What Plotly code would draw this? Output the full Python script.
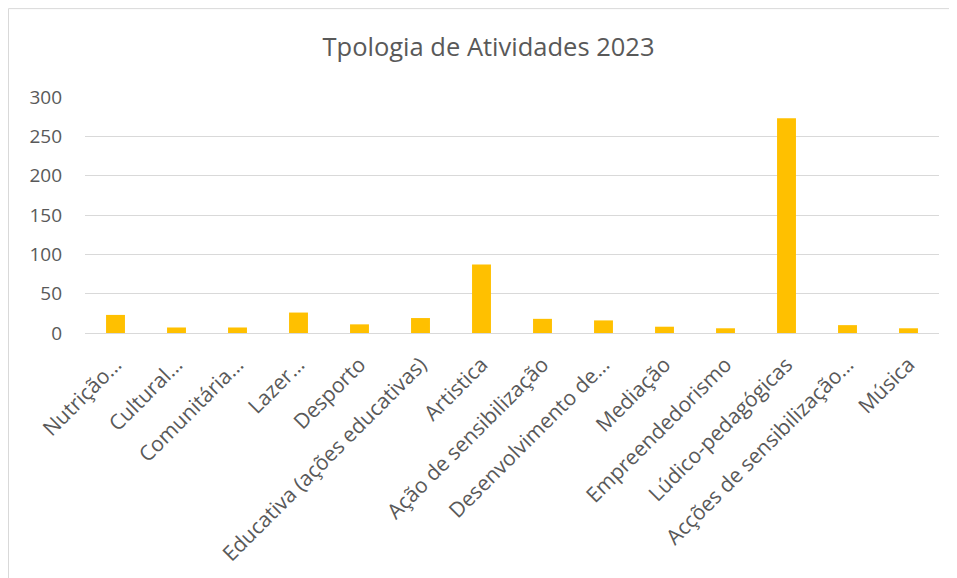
import plotly.graph_objects as go

categories = [
    "Nutrição…", "Cultural…", "Comunitária…", "Lazer…", "Desporto",
    "Educativa (ações educativas)", "Artistica", "Ação de sensibilização",
    "Desenvolvimento de…", "Mediação", "Empreendedorismo",
    "Lúdico-pedagógicas", "Acções de sensibilização…", "Música",
]
values = [23, 7, 7, 26, 11, 19, 87, 18, 16, 8, 6, 273, 10, 6]
y_ticks = [0, 50, 100, 150, 200, 250, 300]
title_text = "Tpologia de Atividades 2023"

FONT = "Open Sans"
GREY = "#595959"

# page is offset by 8px body margin
W, H = 949, 570

fig = go.Figure(
    go.Bar(
        x=categories,
        y=values,
        marker=dict(color="#FFC000", line=dict(width=0)),
    )
)

fig.update_layout(
    width=W,
    height=H,
    margin=dict(l=77, r=18, t=89, b=245),
    paper_bgcolor="white",
    plot_bgcolor="white",
    bargap=0.69,
    showlegend=False,
    font=dict(family=FONT, color=GREY, size=19),
    title=dict(
        text=title_text,
        x=480.5 / W,
        xref="container",
        xanchor="center",
        y=1 - 39 / H,
        yref="container",
        yanchor="middle",
        font=dict(family=FONT, size=25.5, color=GREY),
    ),
    xaxis=dict(
        tickangle=-45,
        showgrid=False,
        showline=True,
        linecolor="#D9D9D9",
        linewidth=1,
        ticks="",
        ticklabelshift=0,
        ticklabelstandoff=10,
        tickfont=dict(family=FONT, size=21, color=GREY),
    ),
    yaxis=dict(
        range=[0, 300],
        tickvals=y_ticks,
        showgrid=True,
        gridcolor="#D9D9D9",
        gridwidth=1,
        zeroline=False,
        showline=False,
        ticks="",
        ticklabelstandoff=22,
        tickfont=dict(family=FONT, size=19, color=GREY),
    ),
    shapes=[
        dict(
            type="rect",
            xref="paper",
            yref="paper",
            x0=(0.5 - 77) / 854,
            x1=1.2,
            y0=-1.5,
            y1=(325.3 - 0.5) / 236.3,
            line=dict(color="#D9D9D9", width=1),
            fillcolor="rgba(0,0,0,0)",
            layer="below",
        )
    ],
)

fig.write_html("out.html")
